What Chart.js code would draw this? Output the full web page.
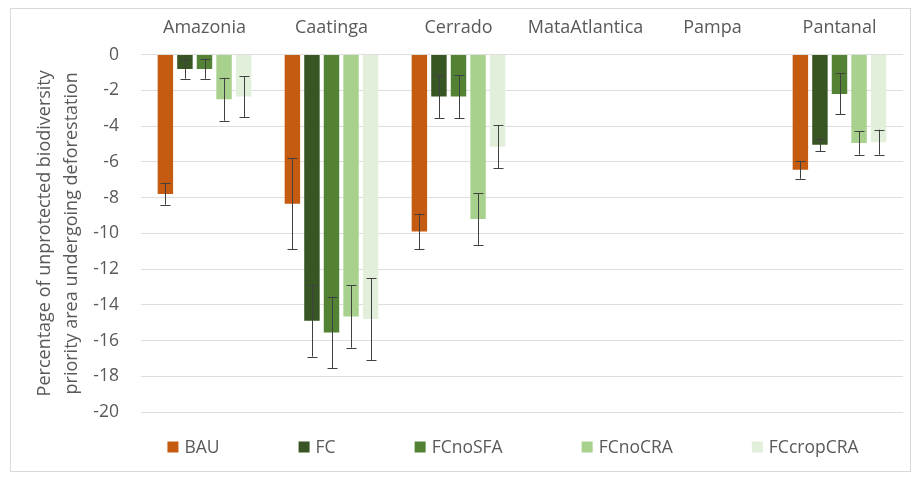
<!DOCTYPE html>
<html>
<head>
<meta charset="utf-8">
<script src="https://cdn.jsdelivr.net/npm/chart.js@4.4.1/dist/chart.umd.min.js"></script>
<style>
  html, body { margin: 0; padding: 0; background: #fff; }
  #wrap { position: relative; width: 918px; height: 481px; }
  #frame { position: absolute; left: 10px; top: 8px; width: 901px; height: 464px; border: 1px solid #d9d9d9; box-sizing: border-box; }
  canvas { position: absolute; left: 0; top: 0; }
</style>
</head>
<body>
<div id="wrap">
  <div id="frame"></div>
  <canvas id="c" width="918" height="481"></canvas>
</div>
<script>
const categories = ["Amazonia", "Caatinga", "Cerrado", "MataAtlantica", "Pampa", "Pantanal"];
const seriesNames = ["BAU", "FC", "FCnoSFA", "FCnoCRA", "FCcropCRA"];
const BAU       = [-7.8, -8.35, -9.9, null, null, -6.45];
const FC        = [-0.8, -14.9, -2.35, null, null, -5.05];
const FCnoSFA   = [-0.8, -15.55, -2.35, null, null, -2.2];
const FCnoCRA   = [-2.5, -14.65, -9.2, null, null, -4.95];
const FCcropCRA = [-2.35, -14.8, -5.15, null, null, -4.9];
const BAU_err       = [0.6, 2.55, 1.0, null, null, 0.5];
const FC_err        = [0.55, 2.0, 1.2, null, null, 0.35];
const FCnoSFA_err   = [0.55, 2.0, 1.2, null, null, 1.15];
const FCnoCRA_err   = [1.2, 1.75, 1.45, null, null, 0.65];
const FCcropCRA_err = [1.15, 2.3, 1.2, null, null, 0.7];
const yTicks = [0, -2, -4, -6, -8, -10, -12, -14, -16, -18, -20];
const yTitle = ["Percentage of unprotected biodiversity", "priority area undergoing deforestation"];

const colors = ["#C55A11", "#375623", "#548235", "#A9D18E", "#E2EFDA"];
const values = [BAU, FC, FCnoSFA, FCnoCRA, FCcropCRA];
const errors = [BAU_err, FC_err, FCnoSFA_err, FCnoCRA_err, FCcropCRA_err];

const FONT = "'Open Sans', Lato, sans-serif";
const TXT = "#595959";

const errorBars = {
  id: 'errorBars',
  afterDatasetsDraw(chart) {
    const ctx = chart.ctx;
    const ys = chart.scales.y;
    ctx.save();
    ctx.strokeStyle = "#404040";
    ctx.lineWidth = 1;
    chart.data.datasets.forEach((ds, di) => {
      const meta = chart.getDatasetMeta(di);
      if (meta.hidden) return;
      meta.data.forEach((bar, i) => {
        const v = ds.data[i], e = ds.errs[i];
        if (v == null || e == null) return;
        const x = Math.round(bar.x) + 0.5;
        const y1 = ys.getPixelForValue(v + e);
        const y2 = ys.getPixelForValue(v - e);
        const cap = 5;
        ctx.beginPath();
        ctx.moveTo(x, y1); ctx.lineTo(x, y2);
        ctx.moveTo(x - cap, Math.round(y1) + 0.5); ctx.lineTo(x + cap, Math.round(y1) + 0.5);
        ctx.moveTo(x - cap, Math.round(y2) + 0.5); ctx.lineTo(x + cap, Math.round(y2) + 0.5);
        ctx.stroke();
      });
    });
    ctx.restore();
  }
};

// Legend drawn from the chart's own datasets, with Excel-like spacing
const spreadLegend = {
  id: 'spreadLegend',
  afterDraw(chart) {
    const ctx = chart.ctx;
    ctx.save();
    ctx.font = "17.5px " + FONT;
    ctx.textBaseline = 'middle';
    const box = 11, gapBoxText = 6, gapItems = 79;
    const items = chart.data.datasets.map(ds => ({
      label: ds.label, color: ds.backgroundColor, w: ctx.measureText(ds.label).width
    }));
    const total = items.reduce((s, it) => s + box + gapBoxText + it.w, 0) + gapItems * (items.length - 1);
    let x = 513 - total / 2;
    const y = 447;
    items.forEach(it => {
      ctx.fillStyle = it.color;
      ctx.fillRect(x, y - box / 2, box, box);
      ctx.fillStyle = TXT;
      ctx.fillText(it.label, x + box + gapBoxText, y + 1);
      x += box + gapBoxText + it.w + gapItems;
    });
    ctx.restore();
  }
};

const LAYOUT_LEFT = 8;
new Chart(document.getElementById('c'), {
  type: 'bar',
  data: {
    labels: categories,
    datasets: seriesNames.map((n, i) => ({
      label: n,
      data: values[i],
      errs: errors[i],
      backgroundColor: colors[i],
      borderWidth: 0,
      categoryPercentage: 0.77,
      barPercentage: 0.79
    }))
  },
  options: {
    responsive: false,
    animation: false,
    layout: { padding: { left: LAYOUT_LEFT, right: 15, top: 9, bottom: 69 } },
    plugins: {
      tooltip: { enabled: false },
      legend: { display: false }
    },
    scales: {
      x: {
        position: 'top',
        grid: { display: false },
        border: { display: false },
        ticks: { color: TXT, font: { family: FONT, size: 18 }, padding: 8, maxRotation: 0 }
      },
      y: {
        min: -20, max: 0,
        afterBuildTicks(axis) { axis.ticks = yTicks.map(v => ({ value: v })); },
        afterFit(scale) { scale.width = 141 - LAYOUT_LEFT; },
        grid: { color: "#dedede", lineWidth: 1, drawTicks: false },
        border: { display: false },
        ticks: { color: TXT, font: { family: FONT, size: 17.5 }, padding: 22 },
        title: { display: true, text: yTitle, color: TXT, font: { family: FONT, size: 18, lineHeight: 1.5 }, padding: { top: 23, bottom: 5 } }
      }
    }
  },
  plugins: [errorBars, spreadLegend]
});
</script>
</body>
</html>
